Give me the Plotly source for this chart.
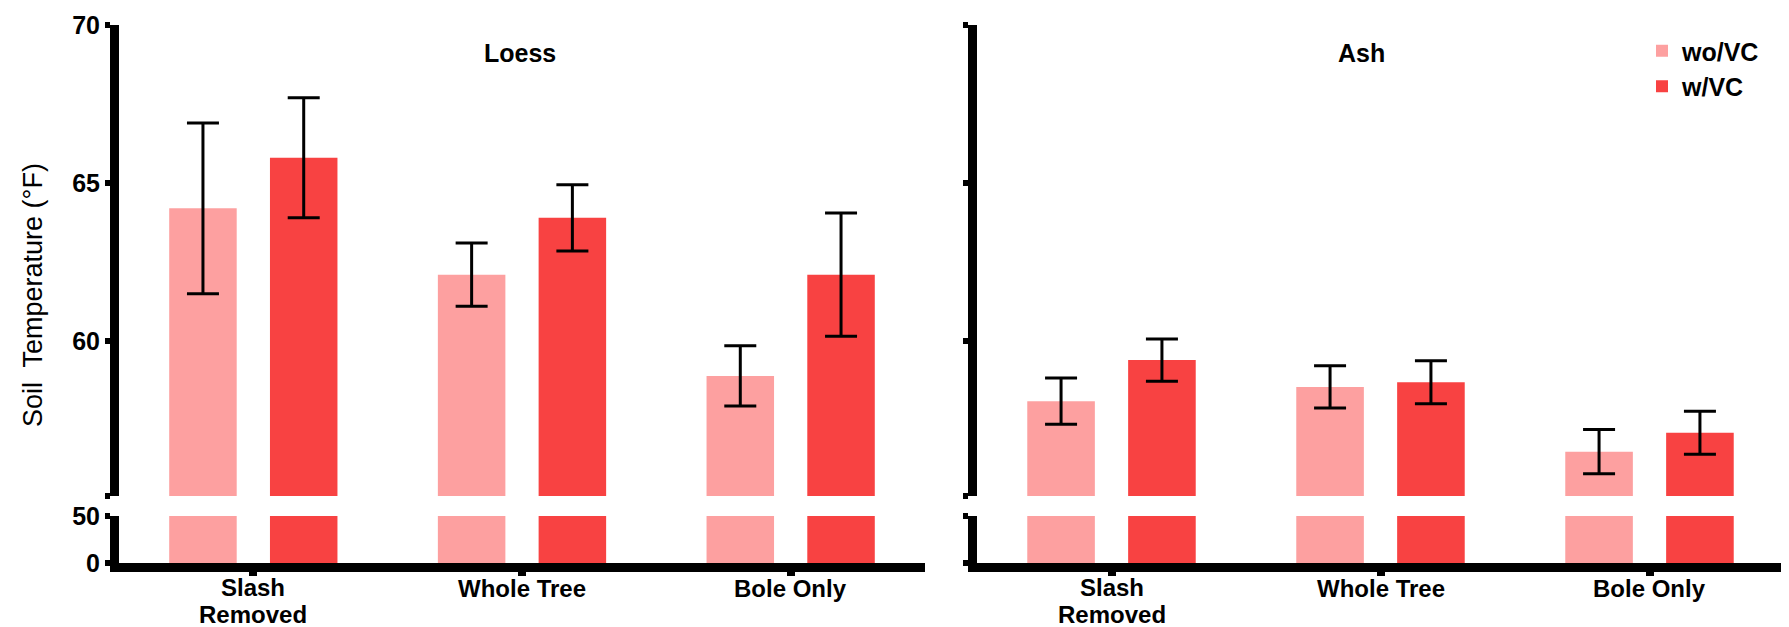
import plotly.graph_objects as go

# ---------------- data ----------------
categories = ["Slash Removed", "Whole Tree", "Bole Only"]
tick_label_lines = [["Slash", "Removed"], ["Whole Tree"], ["Bole Only"]]
series_names = ["wo/VC", "w/VC"]

loess_wo = [64.2, 62.1, 58.9]
loess_wo_err = [2.7, 1.0, 0.95]
loess_w = [65.8, 63.9, 62.1]
loess_w_err = [1.9, 1.05, 1.95]

ash_wo = [58.1, 58.55, 56.5]
ash_wo_err = [0.73, 0.67, 0.7]
ash_w = [59.4, 58.7, 57.1]
ash_w_err = [0.67, 0.68, 0.68]

panel_titles = ["Loess", "Ash"]
y_title = "Soil\u00a0 Temperature (°F)"
upper_ticks = [60, 65, 70]
lower_ticks = [0, 50]

# ---------------- style ----------------
W, H = 1789, 627
colors = {"wo/VC": "#FDA0A0", "w/VC": "#F84242"}
FONT = "Liberation Sans, Arial, sans-serif"

def py(p):  # pixel y -> paper
    return 1 - p / H

def px(p):
    return p / W

upper_dom = [py(488), py(17)]
lower_dom = [py(555), py(508)]
upper_range = [55.1, 70]
lower_range = [0, 50]
x_doms = [[px(111), px(917)], [px(969), px(1776)]]

fig = go.Figure()

panels = [
    ("x", "y", "y2", loess_wo, loess_wo_err, loess_w, loess_w_err),
    ("x2", "y3", "y4", ash_wo, ash_wo_err, ash_w, ash_w_err),
]

for pi, (xa, ya_up, ya_lo, wo, wo_e, w, w_e) in enumerate(panels):
    for name, vals, errs in [("wo/VC", wo, wo_e), ("w/VC", w, w_e)]:
        # upper segment with error bars
        fig.add_trace(go.Bar(
            x=categories, y=vals, name=name, xaxis=xa, yaxis=ya_up,
            marker=dict(color=colors[name], line=dict(width=0)),
            error_y=dict(type="data", array=errs, visible=True,
                         color="black", thickness=3, width=16),
            legendgroup=name, showlegend=(pi == 1),
        ))
        # lower segment (clipped at 50)
        fig.add_trace(go.Bar(
            x=categories, y=vals, name=name, xaxis=xa, yaxis=ya_lo,
            marker=dict(color=colors[name], line=dict(width=0)),
            legendgroup=name, showlegend=False,
        ))

tickfont = dict(family=FONT, size=25, color="black", weight="bold")

common_y = dict(showgrid=False, zeroline=False, showline=True, linewidth=9,
                linecolor="black", ticks="outside", ticklen=5, tickwidth=6,
                tickcolor="black", automargin=False, tickfont=tickfont)
common_x = dict(showgrid=False, zeroline=False, showline=True, linewidth=9,
                linecolor="black", ticks="outside", ticklen=4, tickwidth=8,
                tickcolor="black", automargin=False, showticklabels=False,
                type="category", range=[-0.5, 2.5],
                tickmode="array", tickvals=categories)

up_tickvals = [upper_range[0]] + upper_ticks
up_ticktext = [""] + [str(v) for v in upper_ticks]

title_font = dict(family=FONT, size=25, color="black", weight="bold")
annotations = [
    dict(text=panel_titles[0], x=px(512), y=py(45), xref="paper", yref="paper",
         xanchor="center", yanchor="middle", showarrow=False, font=title_font),
    dict(text=panel_titles[1], x=px(1353), y=py(45), xref="paper", yref="paper",
         xanchor="center", yanchor="middle", showarrow=False, font=title_font),
    dict(text=y_title, x=px(25), y=py(287), xref="paper", yref="paper",
         xanchor="center", yanchor="middle", textangle=-90, showarrow=False,
         font=dict(family=FONT, size=27, color="black")),
]
# category labels (one annotation per text line)
cat_font = dict(family=FONT, size=24, color="black", weight="bold")
for xref in ["x", "x2"]:
    for cat, lines in zip(categories, tick_label_lines):
        ys = [580] if len(lines) == 1 else [579, 606]
        for line, yy in zip(lines, ys):
            annotations.append(dict(
                text=line, x=cat, xref=xref, yref="paper", y=py(yy),
                xanchor="center", yanchor="middle", showarrow=False,
                borderpad=0, font=cat_font,
            ))

fig.update_layout(
    width=W, height=H,
    margin=dict(l=0, r=0, t=0, b=0),
    paper_bgcolor="white", plot_bgcolor="white",
    barmode="group", bargap=0.25, bargroupgap=0.33,
    font=dict(family=FONT, color="black"),
    xaxis=dict(domain=x_doms[0], anchor="y2", **common_x),
    xaxis2=dict(domain=x_doms[1], anchor="y4", **common_x),
    yaxis=dict(domain=upper_dom, anchor="x", range=upper_range,
               tickmode="array", tickvals=up_tickvals, ticktext=up_ticktext,
               **common_y),
    yaxis2=dict(domain=lower_dom, anchor="x", range=lower_range,
                tickmode="array", tickvals=lower_ticks,
                ticktext=[str(v) for v in lower_ticks], **common_y),
    yaxis3=dict(domain=upper_dom, anchor="x2", range=upper_range,
                tickmode="array", tickvals=up_tickvals,
                ticktext=["" for _ in up_tickvals], **common_y),
    yaxis4=dict(domain=lower_dom, anchor="x2", range=lower_range,
                tickmode="array", tickvals=lower_ticks,
                ticktext=["" for _ in lower_ticks], **common_y),
    legend=dict(x=px(1634), y=py(20), xanchor="left", yanchor="top",
                font=dict(family=FONT, size=25, color="black", weight="bold"),
                bgcolor="rgba(0,0,0,0)", tracegroupgap=5,
                itemwidth=30, traceorder="normal"),
    annotations=annotations,
)

fig.write_html("out.html")
